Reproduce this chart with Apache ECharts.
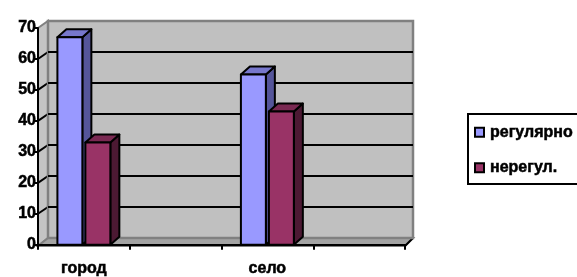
<!DOCTYPE html>
<html><head><meta charset="utf-8">
<script src="https://cdn.jsdelivr.net/npm/echarts@6/dist/echarts.min.js"></script>
<style>html,body{margin:0;padding:0;background:#fff}#c{width:577px;height:277px}</style>
</head><body><div id="c"></div>
<script>
var categories = ['город', '', 'село', ''];
var seriesNames = ['регулярно', 'нерегул.'];
var regularValues = [67, null, 55, null];
var irregularValues = [33, null, 43, null];
var yTicks = [0, 10, 20, 30, 40, 50, 60, 70];

var FONT = "'Liberation Sans', Arial, sans-serif";
var FS = 16;
var TB = {textBorderColor: '#000', textBorderWidth: 0.5};
var F = {l: 38, r: 172, t: 28, b: 31};      // front grid
var DX = 10, DY = -8;                        // wall depth
var BDX = 9, BDY = -8;                       // bar depth

var palettes = [
  {front: '#9999ff', top: '#7777cc', side: '#55559a'},
  {front: '#993366', top: '#7a2952', side: '#4c1933'}
];

function toData(vals) {
  var out = [];
  vals.forEach(function (v, i) { if (v != null) out.push([i, v]); });
  return out;
}

function makeRender(idx) {
  var pal = palettes[idx];
  return function (params, api) {
    var cat = api.value(0), val = api.value(1);
    var base = api.coord([cat, 0]);
    var top = api.coord([cat, val]);
    var band = api.size([1, 0])[0];
    var w = band * 0.272, gap = band * 0.033;
    var x0 = idx === 0 ? base[0] - gap / 2 - w : base[0] + gap / 2;
    var ty = top[1], by = base[1];
    var st = {stroke: '#000', lineWidth: 2, lineJoin: 'round'};
    return {
      type: 'group',
      children: [
        {type: 'polygon', shape: {points: [[x0 + w, ty], [x0 + w + BDX, ty + BDY], [x0 + w + BDX, by + BDY], [x0 + w, by]]},
          style: Object.assign({fill: pal.side}, st)},
        {type: 'polygon', shape: {points: [[x0, ty], [x0 + BDX, ty + BDY], [x0 + w + BDX, ty + BDY], [x0 + w, ty]]},
          style: Object.assign({fill: pal.top}, st)},
        {type: 'rect', shape: {x: x0, y: ty, width: w, height: by - ty},
          style: Object.assign({fill: pal.front}, st)}
      ]
    };
  };
}

var chart = echarts.init(document.getElementById('c'), null, {renderer: 'canvas'});
var option = {
  animation: false,
  backgroundColor: '#fff',
  textStyle: {fontFamily: FONT},
  grid: [
    {left: F.l, right: F.r, top: F.t, bottom: F.b, show: false},
    {left: F.l + DX, right: F.r - DX + 2, top: F.t + DY + 1, bottom: F.b - DY, show: true,
      backgroundColor: '#c0c0c0', borderColor: '#808080', borderWidth: 2.5, z: -5}
  ],
  xAxis: [
    {type: 'category', gridIndex: 0, data: categories, boundaryGap: true,
      axisLine: {lineStyle: {color: '#000', width: 2}},
      axisTick: {show: true, length: 5, lineStyle: {color: '#000', width: 2}},
      axisLabel: Object.assign({color: '#000', fontWeight: 'bold', fontSize: FS, fontFamily: FONT, margin: 16, interval: 0}, TB),
      splitLine: {show: false}, z: 3},
    {type: 'category', gridIndex: 1, data: categories, show: false}
  ],
  yAxis: [
    {type: 'value', gridIndex: 0, min: 0, max: 70, interval: 10,
      axisLine: {show: true, lineStyle: {color: '#000', width: 2}},
      axisTick: {show: true, length: 5, lineStyle: {color: '#000', width: 2}},
      axisLabel: Object.assign({color: '#000', fontWeight: 'bold', fontSize: FS, fontFamily: FONT, margin: 2}, TB),
      splitLine: {show: false}, z: 3},
    {type: 'value', gridIndex: 1, min: 0, max: 70, interval: 10,
      axisLine: {show: false}, axisTick: {show: false}, axisLabel: {show: false},
      splitLine: {show: true, showMinLine: false, showMaxLine: false, lineStyle: {color: '#000', width: 2}}}
  ],
  legend: {
    orient: 'vertical', left: 468, top: 114,
    padding: [10, 20, 8, 6], itemGap: 19,
    itemWidth: 9, itemHeight: 9, icon: 'rect',
    borderColor: '#000', borderWidth: 2, backgroundColor: '#fff',
    itemStyle: {borderColor: '#000', borderWidth: 2},
    textStyle: Object.assign({color: '#000', fontWeight: 'bold', fontSize: FS, fontFamily: FONT, padding: [0, 0, 0, 1]}, TB),
    data: seriesNames
  },
  series: [
    {type: 'custom', name: seriesNames[0], xAxisIndex: 0, yAxisIndex: 0, renderItem: makeRender(0),
      itemStyle: {color: palettes[0].front}, data: toData(regularValues), z: 4},
    {type: 'custom', name: seriesNames[1], xAxisIndex: 0, yAxisIndex: 0, renderItem: makeRender(1),
      itemStyle: {color: palettes[1].front}, data: toData(irregularValues), z: 5}
  ]
};
chart.setOption(option);

// walls: left wall and floor, with diagonal grid links on the left wall
var W = 577, H = 277;
var fl = F.l, fr = W - F.r, ft = F.t, fb = H - F.b;
var bl = fl + DX, br = W - (F.r - DX + 2), bt = F.t + DY + 1, bb = H - (F.b - DY);
var els = [];
els.push({type: 'polygon', shape: {points: [[fl, ft], [bl, bt], [bl, bb], [fl, fb]]},
  style: {fill: '#c4c4c4', stroke: '#808080', lineWidth: 2}, z: -10});
els.push({type: 'polygon', shape: {points: [[fl, fb], [bl, bb], [br, bb], [fr, fb]]},
  style: {fill: '#a4a4a4', stroke: '#808080', lineWidth: 2}, z: -10});
yTicks.forEach(function (v) {
  if (v === 0 || v === 70) return;
  var yf = chart.convertToPixel({yAxisIndex: 0}, v);
  var yb = chart.convertToPixel({yAxisIndex: 1}, v);
  els.push({type: 'line', shape: {x1: fl, y1: yf, x2: bl, y2: yb}, style: {stroke: '#000', lineWidth: 2}, z: -9});
});
els.push({type: 'line', shape: {x1: fr, y1: fb, x2: br, y2: bb}, style: {stroke: '#000', lineWidth: 2}, z: -9});
chart.setOption({graphic: {elements: els}});
</script></body></html>
